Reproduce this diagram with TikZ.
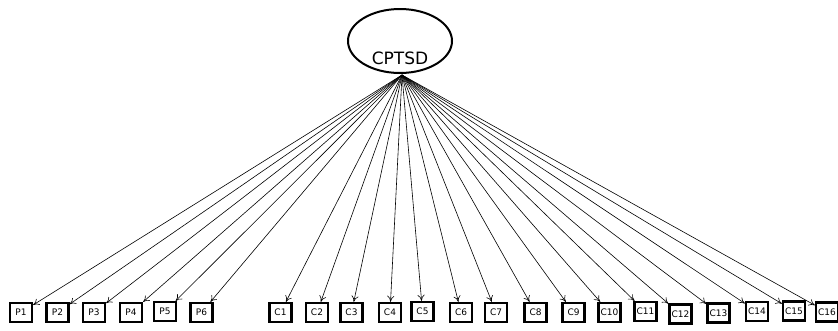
\documentclass[tikz,border=0pt]{standalone}
\usepackage{fontspec}
\setmainfont{DejaVu Sans}
\usetikzlibrary{shapes.geometric,arrows.meta}
\begin{document}
\begin{tikzpicture}[x=1pt,y=-1pt,
  latent/.style={draw,line width=2pt,ellipse,minimum width=104pt,minimum height=64pt,inner sep=0pt},
  ind/.style={draw,line width=2.4pt,minimum width=22pt,minimum height=19pt,inner sep=0pt,font=\fontsize{9}{10}\selectfont},
  load/.style={-{To[length=6pt,width=7pt]},line width=0.6pt}]
\useasboundingbox (0,0) rectangle (838,330);
\node[latent] (cptsd) at (400,41) {};
\node[font=\fontsize{17}{19}\selectfont] (lbl) at (400,58) {CPTSD};
\coordinate (apex) at (402,75);
\foreach \n/\x/\y in {P1/21/312.5,P2/57.5/312.5,P3/94/312.5,P4/131/312.5,P5/165/311.5,P6/201.5/312.5,
  C1/280.5/312.5,C2/317/312.5,C3/351.5/312.5,C4/390/312.5,C5/422.5/311.5,C6/461/312.5,C7/496/312.5,C8/535.5/312.5,
  C9/573.5/312.5,C10/609.5/312.5,C11/645.5/311.5,C12/680.5/314,C13/718.5/313,C14/757/311.5,C15/794/311,C16/827/312}{
  \node[ind] (\n) at (\x,\y) {\n};
  \draw[load] (apex) -- (\n);
}
\end{tikzpicture}
\end{document}
